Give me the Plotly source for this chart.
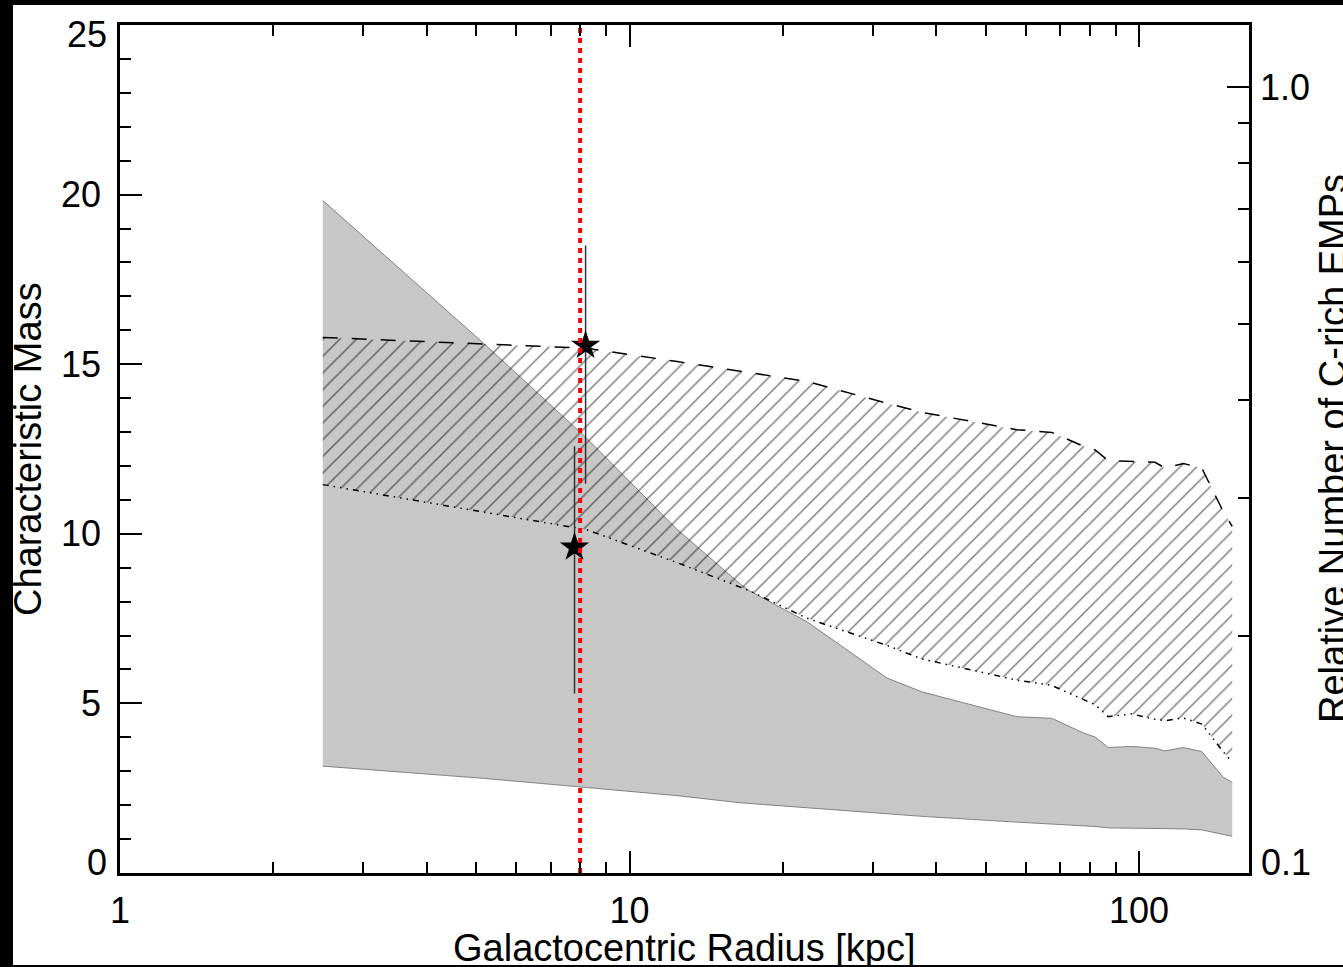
import math
import plotly.graph_objects as go

# ---------------- data ----------------
radius = [2.5, 5.17, 8.24, 12.4, 16.5, 17.2, 22.3, 32.0, 37.5, 57.5, 67.4,
          77.8, 82.0, 87.0, 96.8, 107.5, 112.5, 122.2, 132.8, 146.4, 152.4]

gray_low = [3.15, 2.79, 2.52, 2.28, 2.07, 2.05, 1.93, 1.75, 1.67, 1.50, 1.45,
            1.39, 1.37, 1.33, 1.32, 1.32, 1.31, 1.30, 1.27, 1.15, 1.08]
gray_high = [19.83, 15.62, 12.82, 10.13, 8.52, 8.32, 7.41, 5.75, 5.34, 4.61, 4.56,
             4.13, 4.01, 3.70, 3.73, 3.68, 3.60, 3.70, 3.58, 2.82, 2.67]

hatch_low = [11.45, 10.64, 10.12, 9.15, 8.44, 8.32, 7.51, 6.71, 6.31, 5.69, 5.53,
             5.11, 4.96, 4.61, 4.69, 4.53, 4.49, 4.57, 4.39, 3.57, 3.27]
hatch_high = [15.79, 15.60, 15.47, 15.08, 14.80, 14.76, 14.49, 13.85, 13.58, 13.07, 12.99,
              12.58, 12.47, 12.16, 12.14, 12.11, 11.94, 12.07, 11.94, 10.65, 10.22]

star_radius = [8.2, 7.8]
star_mass = [15.55, 9.60]
star_err_plus = [2.95, 2.98]
star_err_minus = [4.07, 4.31]

solar_radius = 8.0
mass_range = [0, 25]

x_range = [1, 164.4]
x_tickvals = [1, 10, 100]
x_ticktext = ["1", "10", "100"]
x_minor = [2, 3, 4, 5, 6, 7, 8, 9, 20, 30, 40, 50, 60, 70, 80, 90]

y_tickvals = [0, 5, 10, 15, 20, 25]
y_ticktext = ["", "5", "10", "15", "20", ""]

y2_range = [0.1, 1.2]
y2_tickvals = [0.1, 1.0]
y2_ticktext = ["", "1.0"]
y2_minor = [0.2, 0.3, 0.4, 0.5, 0.6, 0.7, 0.8, 0.9]

x_title = "Galactocentric Radius [kpc]"
y_title = "Characteristic Mass"
y2_title = "Relative Number of C-rich EMPs"

# ---------------- figure ----------------
FONT = "Liberation Sans, Arial, Helvetica, sans-serif"
W, H = 1343, 967
ML, MR, MT, MB = 120, 94, 25, 94
PW, PH = W - ML - MR, H - MT - MB


def px_to_paper_x(px):
    return (px - ML) / PW


def px_to_paper_y(py):
    return (H - MB - py) / PH


fig = go.Figure()

# gray band
fig.add_trace(go.Scatter(x=radius, y=gray_low, mode="lines",
                         line=dict(color="#6a6a6a", width=0.8),
                         hoverinfo="skip"))
fig.add_trace(go.Scatter(x=radius, y=gray_high, mode="lines",
                         line=dict(color="#6a6a6a", width=0.8),
                         fill="tonexty", fillcolor="#c7c7c7",
                         hoverinfo="skip"))

# hatched band
fig.add_trace(go.Scatter(x=radius, y=hatch_low, mode="lines",
                         line=dict(color="black", width=1.5,
                                   dash="6px,5px,1.5px,5px,1.5px,5px,1.5px,5px"),
                         hoverinfo="skip"))
fig.add_trace(go.Scatter(x=radius, y=hatch_high, mode="lines",
                         line=dict(color="black", width=1.5, dash="15px,14px"),
                         fill="tonexty", fillcolor="rgba(0,0,0,0)",
                         fillpattern=dict(shape="/", size=11.8, solidity=0.13,
                                          fgcolor="black", bgcolor="rgba(0,0,0,0)"),
                         hoverinfo="skip"))

# stars with error bars
fig.add_trace(go.Scatter(x=star_radius, y=star_mass, mode="markers",
                         marker=dict(symbol="star", size=22, color="black",
                                     line=dict(width=0)),
                         error_y=dict(type="data", symmetric=False,
                                      array=star_err_plus, arrayminus=star_err_minus,
                                      width=0, thickness=1.5, color="#333333"),
                         hoverinfo="skip"))

# solar radius marker
fig.add_trace(go.Scatter(x=[solar_radius, solar_radius], y=mass_range, mode="lines",
                         line=dict(color="#ff0000", width=4, dash="5px,5px"),
                         hoverinfo="skip"))

# empty trace to register the right axis
fig.add_trace(go.Scatter(x=[], y=[], yaxis="y2", hoverinfo="skip"))

axis_common = dict(showgrid=False, zeroline=False, showline=True,
                   linecolor="black", linewidth=2.5,
                   ticks="inside", ticklen=22, tickwidth=2, tickcolor="black",
                   tickfont=dict(family=FONT, size=36, color="black"))

fig.update_layout(
    width=W, height=H,
    margin=dict(l=ML, r=MR, t=MT, b=MB, pad=0),
    paper_bgcolor="black",
    plot_bgcolor="white",
    showlegend=False,
    font=dict(family=FONT, color="black"),
    xaxis=dict(type="log", range=[math.log10(x_range[0]), math.log10(x_range[1])],
               tickmode="array", tickvals=x_tickvals, ticktext=x_ticktext,
               mirror="ticks", ticklabelstandoff=4,
               minor=dict(tickmode="array", tickvals=x_minor, ticks="inside",
                          ticklen=11, tickwidth=2, tickcolor="black", showgrid=False),
               **axis_common),
    yaxis=dict(range=mass_range, tickmode="array", tickvals=y_tickvals,
               ticktext=y_ticktext, mirror=False, ticklabelstandoff=9,
               minor=dict(dtick=1, tick0=0, ticks="inside", ticklen=11,
                          tickwidth=2, tickcolor="black", showgrid=False),
               **axis_common),
    yaxis2=dict(type="log", overlaying="y", side="right", anchor="x",
                range=[math.log10(y2_range[0]), math.log10(y2_range[1])],
                tickmode="array", tickvals=y2_tickvals, ticktext=y2_ticktext,
                ticklabelstandoff=1,
                minor=dict(tickmode="array", tickvals=y2_minor, ticks="inside",
                           ticklen=11, tickwidth=2, tickcolor="black", showgrid=False),
                **axis_common),
    shapes=[dict(type="rect", xref="paper", yref="paper", layer="below",
                 x0=px_to_paper_x(13), x1=px_to_paper_x(W + 20),
                 y0=px_to_paper_y(965), y1=px_to_paper_y(5),
                 fillcolor="white", line=dict(width=0))],
)

ann = []
# axis titles
ann.append(dict(text=x_title, xref="paper", yref="paper", x=0.5, y=px_to_paper_y(948),
                xanchor="center", yanchor="middle", showarrow=False,
                font=dict(family=FONT, size=38, color="black")))
ann.append(dict(text=y_title, xref="paper", yref="paper", x=px_to_paper_x(28), y=0.5,
                xanchor="center", yanchor="middle", textangle=-90, showarrow=False,
                font=dict(family=FONT, size=38, color="black")))
ann.append(dict(text=y2_title, xref="paper", yref="paper", x=px_to_paper_x(1333), y=0.5,
                xanchor="center", yanchor="middle", textangle=-90, showarrow=False,
                font=dict(family=FONT, size=38, color="black")))
# end tick labels nudged inward, as in the reference
ann.append(dict(text="0", xref="paper", yref="y", x=px_to_paper_x(109), y=0,
                xanchor="right", yanchor="middle", yshift=11, showarrow=False,
                font=dict(family=FONT, size=36, color="black")))
ann.append(dict(text="25", xref="paper", yref="y", x=px_to_paper_x(109), y=25,
                xanchor="right", yanchor="middle", yshift=-9, showarrow=False,
                font=dict(family=FONT, size=36, color="black")))
ann.append(dict(text="0.1", xref="paper", yref="y", x=px_to_paper_x(1259), y=0,
                xanchor="left", yanchor="middle", yshift=11, showarrow=False,
                font=dict(family=FONT, size=36, color="black")))
fig.update_layout(annotations=ann)

fig.write_html("out.html")
